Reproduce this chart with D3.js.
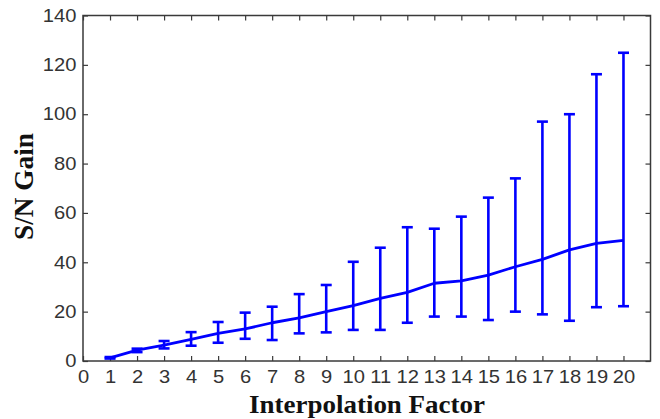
<!DOCTYPE html>
<html>
<head>
<meta charset="utf-8">
<script src="https://cdn.jsdelivr.net/npm/d3@7"></script>
<style>
  html, body { margin: 0; padding: 0; background: #fff; }
  svg { display: block; }
</style>
</head>
<body>
<svg id="chart" width="660" height="419"></svg>
<script>
// Interpolation factors and the mean S/N gain with its spread (low / high)
const factors = [1, 2, 3, 4, 5, 6, 7, 8, 9, 10, 11, 12, 13, 14, 15, 16, 17, 18, 19, 20];
const gainMean = [1.3, 4.4, 6.4, 8.8, 11.2, 13.0, 15.5, 17.5, 20.0, 22.4, 25.4, 27.8, 31.5, 32.5, 34.8, 38.2, 41.2, 45.0, 47.7, 48.9];
const gainLow  = [1.0, 3.6, 5.1, 6.2, 7.4, 9.0, 8.5, 11.2, 11.6, 12.6, 12.6, 15.5, 18.0, 18.0, 16.6, 20.0, 18.9, 16.3, 21.8, 22.2];
const gainHigh = [1.6, 5.0, 8.1, 11.7, 15.8, 19.6, 22.0, 27.1, 30.8, 40.2, 45.9, 54.2, 53.6, 58.5, 66.2, 74.0, 97.0, 100.0, 116.2, 124.9];
const xTicks = d3.range(0, 21);
const yTicks = [0, 20, 40, 60, 80, 100, 120, 140];

const rows = factors.map((f, i) => ({ f, mean: gainMean[i], lo: gainLow[i], hi: gainHigh[i] }));

const svg = d3.select("#chart");
const plotL = 83, plotR = 650.5, plotT = 15.5, plotB = 361;

const x = d3.scaleLinear().domain([0, 21]).range([plotL, plotR]);
const y = d3.scaleLinear().domain([0, 140]).range([plotB, plotT]);

const axisColor = "#3a3a3a";
const tickLen = 5;
const tickStretch = 1.12;

// Frame
svg.append("rect")
  .attr("x", plotL).attr("y", plotT)
  .attr("width", plotR - plotL).attr("height", plotB - plotT)
  .attr("fill", "none").attr("stroke", axisColor).attr("stroke-width", 1.5);

function styleAxis(g) {
  g.select(".domain").remove();
  g.selectAll(".tick line").attr("stroke", axisColor).attr("stroke-width", 1.2);
  g.selectAll(".tick text")
    .attr("fill", "#333")
    .attr("transform", `scale(${tickStretch},1)`)
    .style("font-family", "'Liberation Sans', Arial, sans-serif")
    .style("font-size", "18px");
}

// Bottom axis (inward ticks) and top ticks
svg.append("g").attr("transform", `translate(0,${plotB})`)
  .call(d3.axisBottom(x).tickValues(xTicks).tickFormat(d3.format("d"))
    .tickSizeInner(-tickLen).tickSizeOuter(0).tickPadding(9.5))
  .call(styleAxis);
svg.append("g").attr("transform", `translate(0,${plotT})`)
  .call(d3.axisTop(x).tickValues(xTicks).tickFormat("")
    .tickSizeInner(-tickLen).tickSizeOuter(0))
  .call(styleAxis);

// Left axis and right ticks
svg.append("g").attr("transform", `translate(${plotL},0)`)
  .call(d3.axisLeft(y).tickValues(yTicks).tickFormat(d3.format("d"))
    .tickSizeInner(-tickLen).tickSizeOuter(0).tickPadding(5.8))
  .call(styleAxis);
svg.append("g").attr("transform", `translate(${plotR},0)`)
  .call(d3.axisRight(y).tickValues(yTicks).tickFormat("")
    .tickSizeInner(-tickLen).tickSizeOuter(0))
  .call(styleAxis);

const blue = "#0000ff";
const capHalf = 5.5;

// Error bars
const eb = svg.append("g").attr("stroke", blue).attr("stroke-width", 2.6).attr("fill", "none");
rows.forEach(d => {
  eb.append("line").attr("x1", x(d.f)).attr("x2", x(d.f)).attr("y1", y(d.lo)).attr("y2", y(d.hi));
  eb.append("line").attr("x1", x(d.f) - capHalf).attr("x2", x(d.f) + capHalf).attr("y1", y(d.lo)).attr("y2", y(d.lo));
  eb.append("line").attr("x1", x(d.f) - capHalf).attr("x2", x(d.f) + capHalf).attr("y1", y(d.hi)).attr("y2", y(d.hi));
});

// Mean line
svg.append("path")
  .datum(rows)
  .attr("fill", "none").attr("stroke", blue).attr("stroke-width", 2.8)
  .attr("stroke-linejoin", "round")
  .attr("d", d3.line().x(d => x(d.f)).y(d => y(d.mean)));

// Axis titles
svg.append("text")
  .attr("x", 367).attr("y", 413)
  .attr("text-anchor", "middle")
  .attr("textLength", 236).attr("lengthAdjust", "spacingAndGlyphs")
  .style("font-family", "'Liberation Serif', 'Times New Roman', serif")
  .style("font-weight", "bold").style("font-size", "25px")
  .attr("fill", "#111")
  .text("Interpolation Factor");

svg.append("text")
  .attr("transform", "translate(32.5,186.5) rotate(-90)")
  .attr("text-anchor", "middle")
  .attr("textLength", 107).attr("lengthAdjust", "spacingAndGlyphs")
  .style("font-family", "'Liberation Serif', 'Times New Roman', serif")
  .style("font-weight", "bold").style("font-size", "27px")
  .attr("fill", "#111")
  .text("S/N Gain");
</script>
</body>
</html>
